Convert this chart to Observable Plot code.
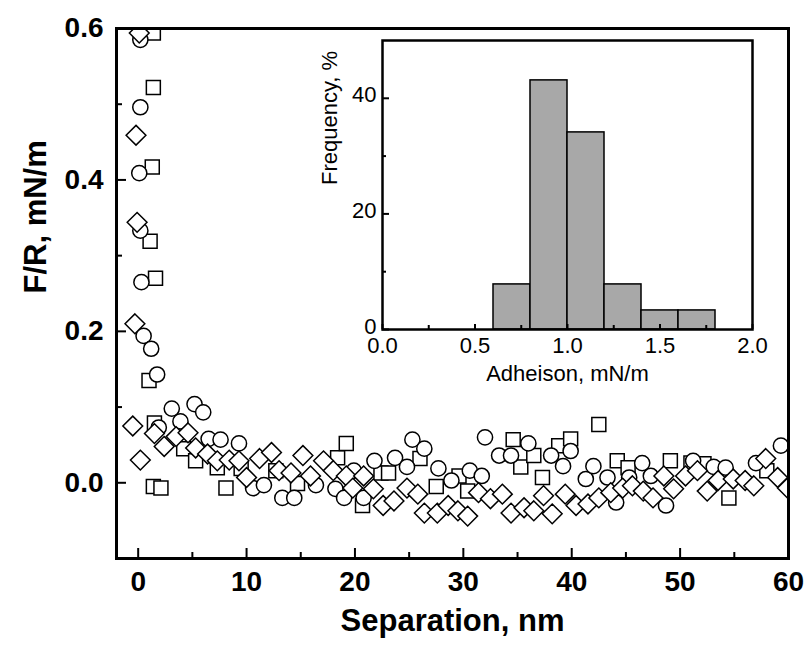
<!DOCTYPE html>
<html>
<head>
<meta charset="utf-8">
<script src="https://cdn.jsdelivr.net/npm/d3@7"></script>
<script src="https://cdn.jsdelivr.net/npm/@observablehq/plot@0.6"></script>
<style>
  body { margin: 0; background: #fff; }
  #wrap { position: relative; width: 810px; height: 658px; }
  #wrap svg { position: absolute; left: 0; top: 0; }
</style>
</head>
<body>
<div id="wrap"></div>
<script>
// ---- Main chart data: F/R (mN/m) vs separation (nm), three approach curves ----
const circleX = [0.2, 0.2, 0.1, 0.2, 0.3, 0.5, 1.2, 1.75, 1.9, 3.1, 3.9, 5.2, 6.0, 6.5, 7.6, 9.3, 10.6, 11.6, 13.3, 14.4, 16.4, 18.2, 19.0, 19.9, 20.8, 21.8, 23.7, 24.8, 25.3, 26.4, 27.7, 28.9, 30.6, 31.7, 32.0, 33.3, 34.4, 36.0, 38.1, 39.2, 39.9, 41.3, 42.0, 43.3, 44.1, 45.3, 46.5, 47.3, 48.7, 51.2, 53.1, 54.2, 57.0, 59.3];
const circleY = [0.585, 0.496, 0.409, 0.333, 0.265, 0.194, 0.177, 0.143, 0.073, 0.098, 0.081, 0.104, 0.093, 0.058, 0.057, 0.052, -0.007, -0.003, -0.02, -0.02, -0.003, -0.008, -0.02, 0.016, -0.02, 0.029, 0.033, 0.021, 0.057, 0.045, 0.019, 0.003, 0.016, 0.009, 0.06, 0.036, 0.036, 0.052, 0.036, 0.022, 0.042, 0.005, 0.022, 0.007, -0.026, 0.007, 0.026, 0.009, -0.03, 0.029, 0.021, 0.02, 0.026, 0.049];

const squareX = [1.4, 1.4, 1.3, 1.1, 1.6, 1.0, 1.5, 1.4, 2.1, 4.2, 5.3, 7.3, 8.1, 9.5, 12.7, 14.7, 18.4, 19.2, 20.7, 22.4, 23.1, 26.0, 27.5, 29.6, 30.4, 34.6, 35.3, 36.5, 37.3, 38.8, 39.9, 42.5, 44.2, 45.2, 49.1, 51.0, 52.2, 54.5, 58.0];
const squareY = [0.594, 0.522, 0.417, 0.319, 0.27, 0.135, 0.079, -0.005, -0.007, 0.045, 0.029, 0.02, -0.007, 0.019, 0.016, -0.001, 0.033, 0.052, -0.03, 0.013, 0.013, 0.032, -0.005, 0.009, -0.011, 0.057, 0.021, 0.036, 0.007, 0.049, 0.058, 0.077, 0.029, 0.02, 0.029, 0.026, 0.025, -0.02, 0.016];

const diamondX = [0.1, -0.2, -0.1, -0.3, -0.5, 0.2, 1.5, 2.4, 3.5, 4.6, 5.3, 6.4, 7.3, 8.4, 9.3, 10.0, 11.2, 12.3, 13.0, 14.1, 15.2, 15.9, 17.1, 18.0, 19.2, 19.8, 20.8, 21.7, 22.6, 23.6, 24.8, 25.8, 26.4, 27.6, 28.6, 29.5, 30.4, 31.4, 32.5, 33.6, 34.4, 35.6, 36.5, 37.4, 38.2, 39.4, 40.4, 41.5, 42.5, 43.6, 44.7, 45.6, 46.6, 47.5, 48.5, 49.4, 50.5, 51.6, 52.5, 53.5, 54.9, 56.0, 56.8, 57.9, 59.0, 59.9];
const diamondY = [0.594, 0.459, 0.344, 0.21, 0.075, 0.03, 0.065, 0.048, 0.061, 0.066, 0.046, 0.038, 0.029, 0.03, 0.029, 0.007, 0.032, 0.04, 0.016, 0.013, 0.036, 0.009, 0.029, 0.016, 0.009, -0.007, 0.009, -0.008, -0.03, -0.024, -0.007, -0.015, -0.04, -0.04, -0.03, -0.037, -0.044, -0.013, -0.021, -0.015, -0.04, -0.033, -0.037, -0.017, -0.041, -0.015, -0.03, -0.028, -0.02, -0.013, -0.007, -0.004, -0.011, -0.02, 0.009, -0.008, 0.009, 0.016, -0.011, 0.003, 0.005, 0.003, -0.004, 0.032, 0.007, -0.007];

// ---- Main axes ticks ----
const xMajor = [0, 10, 20, 30, 40, 50, 60];
const xMinor = [5, 15, 25, 35, 45, 55];
const yMajor = [0.0, 0.2, 0.4, 0.6];
const yMinor = [0.1, 0.3, 0.5];

// ---- Inset histogram data: adhesion (mN/m) frequency (%) ----
const binStart = [0.6, 0.8, 1.0, 1.2, 1.4, 1.6];
const binEnd   = [0.8, 1.0, 1.2, 1.4, 1.6, 1.8];
const frequency = [7.8, 43.1, 34.1, 7.8, 3.3, 3.3];
const insetXMajor = [0, 0.5, 1.0, 1.5, 2.0];
const insetXMinor = [0.25, 0.75, 1.25, 1.75];
const insetYMajor = [0, 20, 40];
const insetYMinor = [10, 30];

// ---- build tables ----
const rows = (xs, ys) => xs.map((x, i) => ({x, y: ys[i]}));
const circles = rows(circleX, circleY);
const squares = rows(squareX, squareY);
const diamonds = rows(diamondX, diamondY);
const bins = binStart.map((b, i) => ({x1: b, x2: binEnd[i], f: frequency[i]}));

const squareSym = {draw(ctx, size) { const r = Math.sqrt(size / Math.PI), h = r * 0.92; ctx.rect(-h, -h, 2 * h, 2 * h); }};
const diamondSym = {draw(ctx, size) { const r = Math.sqrt(size / Math.PI), h = r * 1.3;
  ctx.moveTo(0, -h); ctx.lineTo(h, 0); ctx.lineTo(0, h); ctx.lineTo(-h, 0); ctx.closePath(); }};

const W = 810, H = 658;
const mL = 116, mR = W - 788, mT = 28, mB = H - 558;
const fw = W - mL - mR, fh = H - mT - mB;
const font = "'Liberation Sans', Arial, Helvetica, sans-serif";

const dotOpts = {x: "x", y: "y", r: 7.6, fill: "white", stroke: "black", strokeWidth: 1.5, clip: true};

const mainPlot = Plot.plot({
  width: W, height: H,
  marginLeft: mL, marginRight: mR, marginTop: mT, marginBottom: mB,
  x: {domain: [-2, 60], label: null},
  y: {domain: [-0.1, 0.6], label: null},
  style: {fontFamily: font, background: "white", color: "black"},
  marks: [
    Plot.dot(squares, {...dotOpts, symbol: squareSym}),
    Plot.dot(circles, {...dotOpts, symbol: "circle"}),
    Plot.dot(diamonds, {...dotOpts, symbol: diamondSym}),
    Plot.ruleX(xMajor, {insetTop: fh - 10, strokeWidth: 2}),
    Plot.ruleX(xMinor, {insetTop: fh - 6, strokeWidth: 2}),
    Plot.ruleY(yMajor, {insetRight: fw - 10, strokeWidth: 2}),
    Plot.ruleY(yMinor, {insetRight: fw - 6, strokeWidth: 2}),
    Plot.axisX(xMajor, {tickSize: 0, tickPadding: 13, fontSize: 28, fontWeight: "bold", tickFormat: d => String(d), label: null}),
    Plot.axisY(yMajor, {tickSize: 0, tickPadding: 13, fontSize: 28, fontWeight: "bold", tickFormat: d3.format(".1f"), label: null}),
    Plot.text(["Separation, nm"], {text: d => d, frameAnchor: "bottom", dy: 72, fontSize: 31, fontWeight: "bold"}),
    Plot.text(["F/R, mN/m"], {text: d => d, frameAnchor: "left", dx: -80, rotate: -90, fontSize: 31, fontWeight: "bold"}),
    Plot.frame({strokeWidth: 3})
  ]
});

const iL = 382, iR = W - 752, iT = 40, iB = H - 329;
const ifw = W - iL - iR, ifh = H - iT - iB;
const insetPlot = Plot.plot({
  width: W, height: H,
  marginLeft: iL, marginRight: iR, marginTop: iT, marginBottom: iB,
  x: {domain: [0, 2], label: null},
  y: {domain: [0, 50], label: null},
  style: {fontFamily: font, background: "transparent", color: "black"},
  marks: [
    Plot.frame({fill: "white", stroke: null}),
    Plot.rectY(bins, {x1: "x1", x2: "x2", y: "f", fill: "#a8a8a8", stroke: "black", strokeWidth: 1.5}),
    Plot.ruleX(insetXMajor, {insetTop: ifh - 5, strokeWidth: 2}),
    Plot.ruleX(insetXMinor, {insetTop: ifh - 4, strokeWidth: 2}),
    Plot.ruleY(insetYMajor, {insetRight: ifw - 7, strokeWidth: 2}),
    Plot.ruleY(insetYMinor, {insetRight: ifw - 4, strokeWidth: 2}),
    Plot.axisX(insetXMajor, {tickSize: 0, tickPadding: 8, fontSize: 22, tickFormat: d3.format(".1f"), label: null}),
    Plot.axisY(insetYMajor, {tickSize: 0, tickPadding: 6, dy: -3, fontSize: 22, tickFormat: d => String(d), label: null}),
    Plot.text(["Adheison, mN/m"], {text: d => d, frameAnchor: "bottom", dy: 51, fontSize: 22}),
    Plot.text(["Frequency, %"], {text: d => d, frameAnchor: "left", dx: -53, rotate: -90, fontSize: 22}),
    Plot.frame({strokeWidth: 2.5})
  ]
});

const wrap = document.getElementById("wrap");
wrap.appendChild(mainPlot);
wrap.appendChild(insetPlot);
</script>
</body>
</html>
